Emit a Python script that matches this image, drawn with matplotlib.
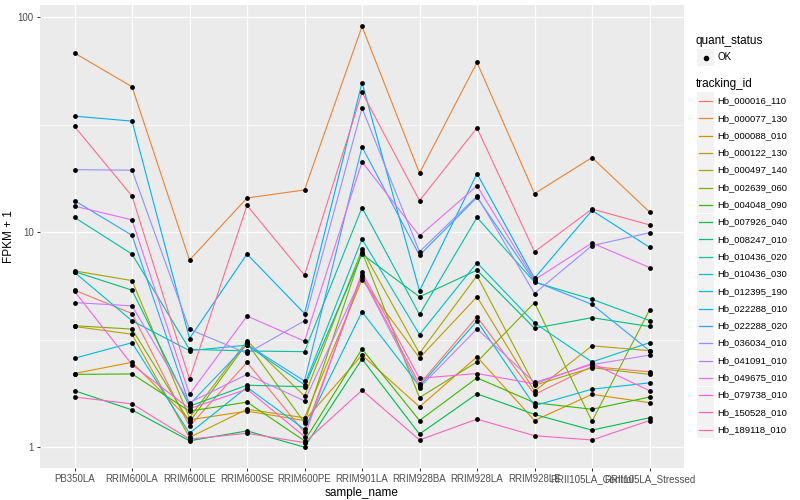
import matplotlib
matplotlib.use('Agg')
import matplotlib.pyplot as plt
from matplotlib.patches import Rectangle
from matplotlib.lines import Line2D

plt.rcParams['font.family'] = ['Liberation Sans', 'DejaVu Sans']

samples = ['PB350LA', 'RRIM600LA', 'RRIM600LE', 'RRIM600SE', 'RRIM600PE', 'RRIM901LA',
           'RRIM928BA', 'RRIM928LA', 'RRIM928LE', 'RRII105LA_Control', 'RRII105LA_Stressed']

# FPKM + 1 per gene, one value per sample
hb_000016_110 = [5.37, 4.18, 1.25, 2.48, 1.17, 6.3, 1.96, 4.04, 1.76, 2.37, 2.24]
hb_000077_130 = [68, 47.4, 7.41, 14.4, 15.7, 90.4, 18.8, 61.5, 15.1, 22.2, 12.4]
hb_000088_010 = [2.2, 2.48, 1.34, 1.47, 1.33, 2.68, 1.54, 2.63, 1.33, 1.76, 1.61]
hb_000122_130 = [3.64, 3.35, 1.11, 1.5, 1.37, 6.0, 2.6, 5.0, 1.82, 2.96, 2.81]
hb_000497_140 = [6.6, 5.95, 1.37, 3.12, 1.73, 8.3, 2.73, 6.27, 1.94, 2.34, 2.18]
hb_002639_060 = [3.67, 3.54, 1.31, 3.05, 1.3, 8.1, 1.7, 2.49, 4.7, 1.32, 4.34]
hb_004048_090 = [2.18, 2.19, 1.47, 1.62, 1.07, 2.86, 1.33, 2.1, 1.61, 1.5, 1.71]
hb_007926_040 = [1.83, 1.49, 1.07, 1.19, 1.0, 2.57, 1.15, 1.77, 1.42, 1.2, 1.37]
hb_008247_010 = [6.55, 5.37, 1.55, 1.94, 1.91, 7.9, 5.0, 6.65, 3.57, 4.0, 3.64]
hb_010436_020 = [11.7, 7.9, 2.85, 2.8, 2.78, 13.0, 4.14, 11.7, 5.85, 4.87, 3.88]
hb_010436_030 = [6.5, 3.87, 2.81, 2.98, 1.95, 9.28, 3.34, 7.2, 3.78, 2.49, 3.06]
hb_012395_190 = [2.59, 3.06, 1.16, 1.9, 1.21, 4.26, 1.92, 3.86, 1.56, 1.86, 1.99]
hb_022288_010 = [34.6, 32.8, 3.2, 7.9, 4.18, 49.5, 5.33, 18.7, 6.1, 12.6, 8.5]
hb_022288_020 = [14.0, 9.66, 1.58, 3.0, 2.03, 24.9, 7.8, 14.5, 5.9, 4.61, 2.81]
hb_036034_010 = [19.5, 19.4, 3.53, 2.73, 3.87, 37.7, 8.1, 14.7, 5.18, 8.65, 9.93]
hb_041091_010 = [4.7, 4.54, 1.61, 2.18, 1.64, 6.2, 1.89, 3.55, 2.0, 2.42, 2.68]
hb_049675_010 = [13.2, 11.4, 1.76, 4.07, 3.11, 21.2, 9.6, 16.4, 6.0, 8.9, 6.84]
hb_079738_010 = [5.3, 2.42, 1.51, 1.86, 1.12, 6.5, 2.09, 2.2, 1.97, 2.45, 1.83]
hb_150528_010 = [1.71, 1.59, 1.09, 1.16, 1.05, 1.84, 1.08, 1.35, 1.13, 1.08, 1.33]
hb_189118_010 = [31.0, 14.7, 2.07, 13.3, 6.3, 44.7, 14.0, 30.5, 8.1, 12.8, 10.8]

tracking_ids = ['Hb_000016_110', 'Hb_000077_130', 'Hb_000088_010', 'Hb_000122_130',
                'Hb_000497_140', 'Hb_002639_060', 'Hb_004048_090', 'Hb_007926_040',
                'Hb_008247_010', 'Hb_010436_020', 'Hb_010436_030', 'Hb_012395_190',
                'Hb_022288_010', 'Hb_022288_020', 'Hb_036034_010', 'Hb_041091_010',
                'Hb_049675_010', 'Hb_079738_010', 'Hb_150528_010', 'Hb_189118_010']
series = [hb_000016_110, hb_000077_130, hb_000088_010, hb_000122_130, hb_000497_140,
          hb_002639_060, hb_004048_090, hb_007926_040, hb_008247_010, hb_010436_020,
          hb_010436_030, hb_012395_190, hb_022288_010, hb_022288_020, hb_036034_010,
          hb_041091_010, hb_049675_010, hb_079738_010, hb_150528_010, hb_189118_010]

# ggplot default hue palette for 20 levels
colors = ['#F8766D', '#EA8331', '#D89000', '#C09B00', '#A3A500', '#7CAE00', '#39B600',
          '#00BB4E', '#00BF7D', '#00C1A3', '#00BFC4', '#00BAE0', '#00B0F6', '#35A2FF',
          '#9590FF', '#C77CFF', '#E76BF3', '#FA62DB', '#FF62BC', '#FF6C91']

W, H = 800, 500
fig = plt.figure(figsize=(8, 5), dpi=100)
ax = fig.add_axes([40 / W, 1 - 468 / H, 644 / W, 463 / H])
ax.set_facecolor('#EBEBEB')

x = list(range(len(samples)))
for vals, col in zip(series, colors):
    ax.plot(x, vals, color=col, lw=0.8, zorder=2)
for vals in series:
    ax.scatter(x, vals, s=12, color='black', zorder=3, linewidths=0)

ax.set_yscale('log')
ax.set_ylim(0.80, 113.7)
ax.set_xlim(-0.6, 10.6)
ax.set_yticks([1, 10, 100])
ax.set_yticklabels(['1', '10', '100'])
ax.set_yticks([10 ** 0.5, 10 ** 1.5], minor=True)
ax.set_xticks(x)
ax.set_xticklabels(samples)
ax.tick_params(axis='y', which='minor', length=0)
ax.tick_params(which='major', length=2.5, width=0.7, color='#333333',
               labelsize=7, labelcolor='#4D4D4D', pad=2)
ax.grid(True, which='major', color='white', lw=0.9, zorder=0)
ax.grid(True, which='minor', axis='y', color='white', lw=0.45, zorder=0)
ax.set_axisbelow(True)
for s in ax.spines.values():
    s.set_visible(False)

ax.set_xlabel('sample_name', fontsize=8.5, labelpad=2)
ax.set_ylabel('FPKM + 1', fontsize=8.5, labelpad=2)


def fx(px):
    return px / W


def fy(py):
    return 1 - py / H


# legend: quant_status
fig.text(fx(696), fy(41), 'quant_status', fontsize=8.5, va='center', ha='left')
fig.add_artist(Rectangle((fx(697), fy(66)), 17 / W, 17 / H, transform=fig.transFigure,
                         facecolor='#F2F2F2', edgecolor='none'))
fig.add_artist(Line2D([fx(705.5)], [fy(57.5)], marker='o', markersize=3, color='black',
                      transform=fig.transFigure))
fig.text(fx(717), fy(57.5), 'OK', fontsize=7, va='center', ha='left')

# legend: tracking_id
fig.text(fx(696), fy(84), 'tracking_id', fontsize=8.5, va='center', ha='left')
for i, (name, col) in enumerate(zip(tracking_ids, colors)):
    yc = 101 + 17.3 * i
    fig.add_artist(Rectangle((fx(697), fy(yc + 8.6)), 17 / W, 17.2 / H,
                             transform=fig.transFigure, facecolor='#F2F2F2', edgecolor='none'))
    fig.add_artist(Line2D([fx(699), fx(712)], [fy(yc), fy(yc)], color=col, lw=0.9,
                          transform=fig.transFigure))
    fig.text(fx(717), fy(yc), name, fontsize=6.8, va='center', ha='left')

fig.savefig('out.png', dpi=100)
